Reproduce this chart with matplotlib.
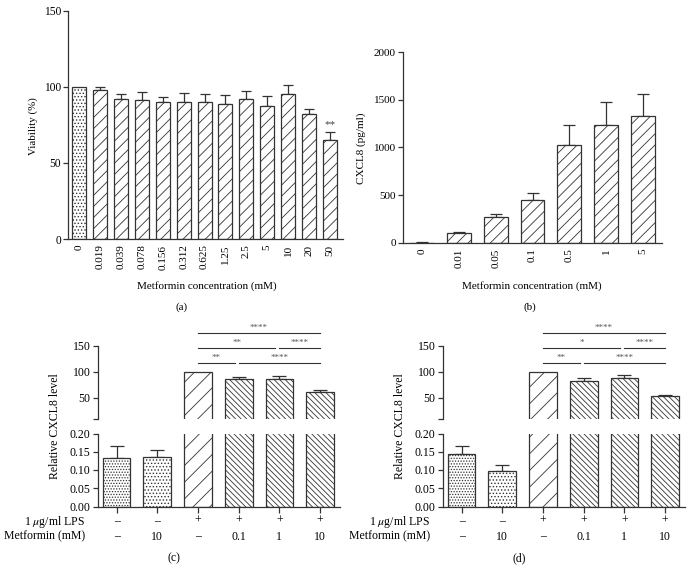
import numpy as np
import matplotlib
matplotlib.use('Agg')
import matplotlib.pyplot as plt
from matplotlib.transforms import blended_transform_factory

plt.rcParams['font.family'] = ['Liberation Serif', 'DejaVu Serif']
plt.rcParams['mathtext.fontset'] = 'stix'
plt.rcParams['hatch.linewidth'] = 0.6

# ---------------- data ----------------
a_labels = ['0', '0.019', '0.039', '0.078', '0.156', '0.312', '0.625', '1.25', '2.5', '5', '10', '20', '50']
a_values = [100, 98, 92, 91.5, 90, 90, 90, 89, 92, 87.5, 95, 82, 65]
a_errors = [0, 2, 3.5, 5, 3, 6, 5, 5.5, 5, 6.5, 6.5, 3.5, 5.5]
a_stars = {12: '**'}

b_labels = ['0', '0.01', '0.05', '0.1', '0.5', '1', '5']
b_values = [5, 100, 275, 455, 1025, 1240, 1330]
b_errors = [5, 15, 25, 70, 210, 235, 225]

lps_row = ['–', '–', '+', '+', '+', '+']
met_row = ['–', '10', '–', '0.1', '1', '10']

c_values = [0.133, 0.136, 100, 87, 87, 61]
c_errors = [0.033, 0.019, 0, 3, 4, 4]
c_sig = [(2, 5, '****'), (2, 4, '**'), (4, 5, '****'), (2, 3, '**'), (3, 5, '****')]

d_values = [0.143, 0.096, 100, 83, 88, 53]
d_errors = [0.024, 0.019, 0, 5, 6, 2]
d_sig = [(2, 5, '****'), (2, 4, '*'), (4, 5, '****'), (2, 3, '**'), (3, 5, '****')]

# ---------------- figure ----------------
W, H = 691, 579
fig = plt.figure(figsize=(W / 100, H / 100), dpi=100)
EC = '#333333'


def px_axes(l, t, r, b):
    return fig.add_axes([l / W, 1 - b / H, (r - l) / W, (b - t) / H])


def ftext(x, y, s, **kw):
    return fig.text(x / W, 1 - y / H, s, **kw)


def style(ax, fs):
    for s in ['top', 'right']:
        ax.spines[s].set_visible(False)
    for s in ['left', 'bottom']:
        ax.spines[s].set_color(EC)
        ax.spines[s].set_linewidth(0.9)
    ax.tick_params(axis='y', length=3.5, width=0.9, color=EC, labelsize=fs, pad=1.5)


def draw_err(ax, x, vals, errs, cap):
    x = np.asarray(x, float)
    vals = np.asarray(vals, float)
    errs = np.asarray(errs, float)
    m = errs > 0
    ax.errorbar(x[m], vals[m], yerr=[np.zeros(m.sum()), errs[m]], fmt='none',
                ecolor=EC, elinewidth=0.9, capsize=cap, capthick=0.9, zorder=1)


# ---------- panel (a) ----------
axa = px_axes(68, 10.7, 343, 239)
xa = np.arange(len(a_values))
hatches_a = ['.....'] + ['///'] * (len(a_values) - 1)
draw_err(axa, xa, a_values, a_errors, 3.8)
for i, v in enumerate(a_values):
    axa.bar(xa[i], v, width=0.67, color='white', edgecolor=EC, linewidth=0.9,
            hatch=hatches_a[i], zorder=2)
for i, s in a_stars.items():
    axa.text(xa[i], a_values[i] + a_errors[i] + 1.5, s, ha='center', va='bottom',
             fontsize=8, color='#444444')
axa.set_ylim(0, 150)
axa.set_yticks([0, 50, 100, 150])
axa.set_xlim(-0.53, 12.62)
axa.set_xticks(xa)
axa.set_xticklabels(a_labels, rotation=90, fontsize=8)
style(axa, 8.3)
axa.tick_params(axis='x', length=0, pad=4)
ftext(33, 126, 'Viability (%)', rotation=90, ha='center', va='center', fontsize=7.8)
ftext(207, 286, 'Metformin concentration (mM)', ha='center', va='center', fontsize=8)
ftext(182, 307, '(a)', ha='center', va='center', fontsize=8)

# ---------- panel (b) ----------
axb = px_axes(403, 52, 662, 243)
xb = np.arange(len(b_values))
draw_err(axb, xb, b_values, b_errors, 4.6)
axb.bar(xb, b_values, width=0.65, color='white', edgecolor=EC, linewidth=0.9,
        hatch='///', zorder=2)
axb.set_ylim(0, 2000)
axb.set_yticks([0, 500, 1000, 1500, 2000])
axb.set_xlim(-0.52, 6.52)
axb.set_xticks(xb)
axb.set_xticklabels(b_labels, rotation=90, fontsize=8)
style(axb, 8)
axb.tick_params(axis='x', length=0, pad=4)
ftext(361, 148, 'CXCL8 (pg/ml)', rotation=90, ha='center', va='center', fontsize=8)
ftext(532, 286, 'Metformin concentration (mM)', ha='center', va='center', fontsize=8)
ftext(530, 307, '(b)', ha='center', va='center', fontsize=8)


# ---------- panels (c), (d) ----------
def broken_panel(x0, values, errors, sig, tag):
    FS = 8.5
    up = px_axes(x0 + 97.5, 345.5, x0 + 340, 419)
    lo = px_axes(x0 + 97.5, 433.5, x0 + 340, 506.5)
    x = np.arange(len(values))
    hatches = ['......', '.....', '//', '\\\\\\\\\\\\', '\\\\\\\\\\\\', '\\\\\\\\\\\\']
    for ax in (up, lo):
        draw_err(ax, x, values, errors, 5.2)
        for i, v in enumerate(values):
            ax.bar(x[i], v, width=0.68, color='white', edgecolor=EC, linewidth=0.9,
                   hatch=hatches[i], zorder=2)
        ax.set_xlim(-0.47, 5.49)
        style(ax, FS)
    up.set_ylim(10, 150)
    up.set_yticks([10, 50, 100, 150])
    up.set_yticklabels(['', '50', '100', '150'])
    up.spines['bottom'].set_visible(False)
    up.tick_params(axis='x', bottom=False, labelbottom=False)
    lo.set_ylim(0, 0.2)
    lo.set_yticks([0, 0.05, 0.10, 0.15, 0.20])
    lo.set_yticklabels(['0.00', '0.05', '0.10', '0.15', '0.20'])
    lo.set_xticks(x)
    lo.set_xticklabels([])
    lo.tick_params(axis='x', length=4, width=0.9, color=EC, direction='out')

    # significance brackets
    levels = [173.8, 145, 145, 117.3, 117.3]
    for (i, j, s), lv in zip(sig, levels):
        ends_before = any(k[0] == j for k, l2 in zip(sig, levels) if l2 == lv and k != (i, j, s))
        xr = j - (0.1 if ends_before else 0)
        up.plot([i, xr], [lv, lv], color=EC, lw=0.8, clip_on=False)
        up.text((i + xr) / 2, lv + 1.5, s, ha='center', va='bottom', fontsize=6.5,
                color='#555555', clip_on=False)

    # table rows
    tr = blended_transform_factory(lo.transData, fig.transFigure)
    for i in x:
        lo.text(i, 1 - 521 / H, lps_row[i], transform=tr, ha='center', va='center', fontsize=FS)
        lo.text(i, 1 - 536.5 / H, met_row[i], transform=tr, ha='center', va='center', fontsize=FS)
    ftext(x0 + 85, 521.5, r'1 $\mu$g/ml LPS', ha='right', va='center', fontsize=FS)
    ftext(x0 + 85, 536.5, 'Metformin (mM)', ha='right', va='center', fontsize=FS)
    ftext(x0 + 55, 426, 'Relative CXCL8 level', rotation=90, ha='center', va='center', fontsize=FS)
    ftext(x0 + 174, 558, tag, ha='center', va='center', fontsize=FS)


broken_panel(0, c_values, c_errors, c_sig, '(c)')
broken_panel(345, d_values, d_errors, d_sig, '(d)')

fig.savefig('out.png', dpi=100)
